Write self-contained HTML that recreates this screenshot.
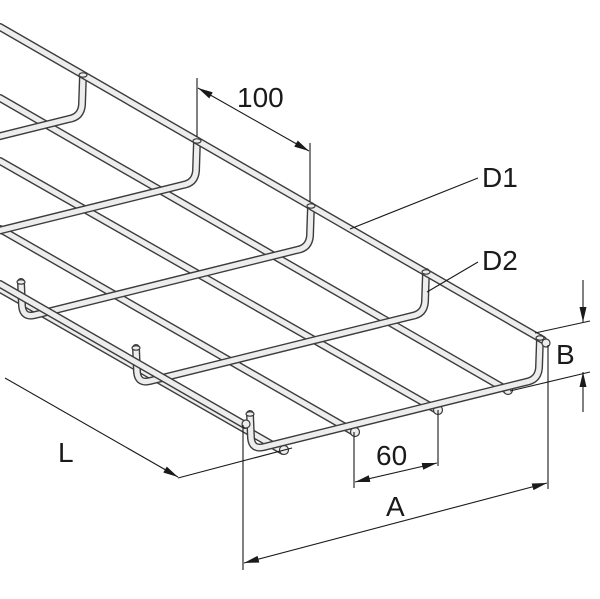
<!DOCTYPE html>
<html><head><meta charset="utf-8"><style>
html,body{margin:0;padding:0;background:#fff;}
svg{display:block;}
.o{fill:none;stroke:#3c3c3c;stroke-width:8;stroke-linecap:round;stroke-linejoin:round;}
.i{fill:none;stroke:#ededed;stroke-width:5.2;stroke-linecap:round;stroke-linejoin:round;}
.d{fill:none;stroke:#1a1a1a;stroke-width:1.1;}
text{font-family:"Liberation Sans",sans-serif;fill:#1a1a1a;}
</style></head><body>
<svg width="600" height="599" viewBox="0 0 600 599" xmlns="http://www.w3.org/2000/svg">
<defs>
<marker id="ar" viewBox="0 0 15 7" refX="15" refY="3.5" markerWidth="15" markerHeight="7" markerUnits="userSpaceOnUse" orient="auto-start-reverse"><path d="M0 0 L15 3.5 L0 7 Z" fill="#1a1a1a"/></marker>
<path id="f1" d="M0 98 L507 390"/>
<path id="f2" d="M0 161 L437 410"/>
<path id="f3" d="M0 229 L354 432"/>
<path id="f4" d="M0 289 L283 451"/>
<path id="u0" d="M83 75 L82 105 Q81 117 69 119 L-193 184"/>
<path id="u1" d="M197 141 L196 171 Q195 183 183 185 L-79 250"/>
<path id="u2" d="M311 206 L310 236 Q309 248 297 250 L35 315 Q23 318 22 306 L21 282"/>
<path id="u3" d="M426 272 L425 302 Q424 314 412 316 L150 381 Q138 384 137 372 L136 348"/>
<path id="u4" d="M540 338 L539 368 Q538 380 526 382 L264 447 Q252 450 251 438 L250 414"/>
<path id="tb" d="M0 27 L543 340"/>
<path id="fr" d="M0 284 L245 425"/>
</defs>
<use href="#f1" class="o"/><use href="#f1" class="i"/>
<use href="#f2" class="o"/><use href="#f2" class="i"/>
<use href="#f3" class="o"/><use href="#f3" class="i"/>
<use href="#f4" class="o"/><use href="#f4" class="i"/>
<g fill="#ededed" stroke="#3c3c3c" stroke-width="1.2">
<circle cx="508" cy="390" r="4.5"/><circle cx="438" cy="410" r="4.5"/><circle cx="355" cy="432" r="4.5"/><circle cx="284" cy="450" r="4.5"/>
</g>
<use href="#u0" class="o"/><use href="#u0" class="i"/>
<use href="#u1" class="o"/><use href="#u1" class="i"/>
<use href="#u2" class="o"/><use href="#u2" class="i"/>
<use href="#u3" class="o"/><use href="#u3" class="i"/>
<use href="#u4" class="o"/><use href="#u4" class="i"/>
<use href="#tb" class="o"/><use href="#tb" class="i"/>
<use href="#fr" class="o"/><use href="#fr" class="i"/>
<g fill="#ededed" stroke="#3c3c3c" stroke-width="1.2">
<ellipse cx="83" cy="75" rx="4" ry="2.2"/><ellipse cx="197" cy="141" rx="4" ry="2.2"/><ellipse cx="311" cy="206" rx="4" ry="2.2"/><ellipse cx="426" cy="272" rx="4" ry="2.2"/><ellipse cx="540" cy="338" rx="4" ry="2.2"/>
<ellipse cx="21" cy="282" rx="4" ry="2.2"/><ellipse cx="136" cy="348" rx="4" ry="2.2"/><ellipse cx="250" cy="414" rx="4" ry="2.2"/>
<circle cx="546" cy="343" r="4"/><circle cx="246" cy="424" r="4"/>
</g>
<line class="d" x1="197" y1="78" x2="197" y2="137"/>
<line class="d" x1="310" y1="143" x2="310" y2="202"/>
<line class="d" x1="198" y1="88" x2="309" y2="151" marker-start="url(#ar)" marker-end="url(#ar)"/>
<text x="237" y="107" font-size="28">100</text>
<line class="d" x1="350" y1="229" x2="478" y2="178"/>
<text x="482" y="187" font-size="28">D1</text>
<line class="d" x1="427" y1="292" x2="478" y2="262"/>
<text x="482" y="270" font-size="28">D2</text>
<line class="d" x1="535" y1="333" x2="590" y2="321"/>
<line class="d" x1="510" y1="391" x2="590" y2="372"/>
<line class="d" x1="583" y1="280" x2="583" y2="322" marker-end="url(#ar)"/>
<line class="d" x1="583" y1="412" x2="583" y2="372" marker-end="url(#ar)"/>
<text x="556" y="364" font-size="28">B</text>
<line class="d" x1="243" y1="425" x2="243" y2="570"/>
<line class="d" x1="548" y1="345" x2="548" y2="489"/>
<line class="d" x1="244" y1="563" x2="547" y2="483" marker-start="url(#ar)" marker-end="url(#ar)"/>
<text x="386" y="516" font-size="28">A</text>
<line class="d" x1="354" y1="432" x2="354" y2="488"/>
<line class="d" x1="438" y1="410" x2="438" y2="466"/>
<line class="d" x1="355" y1="482" x2="437" y2="463" marker-start="url(#ar)" marker-end="url(#ar)"/>
<text x="376" y="465" font-size="28">60</text>
<line class="d" x1="5" y1="378" x2="178" y2="477" marker-end="url(#ar)"/>
<line class="d" x1="178" y1="478" x2="292" y2="448"/>
<text x="58" y="462" font-size="28">L</text>
</svg>
</body></html>
